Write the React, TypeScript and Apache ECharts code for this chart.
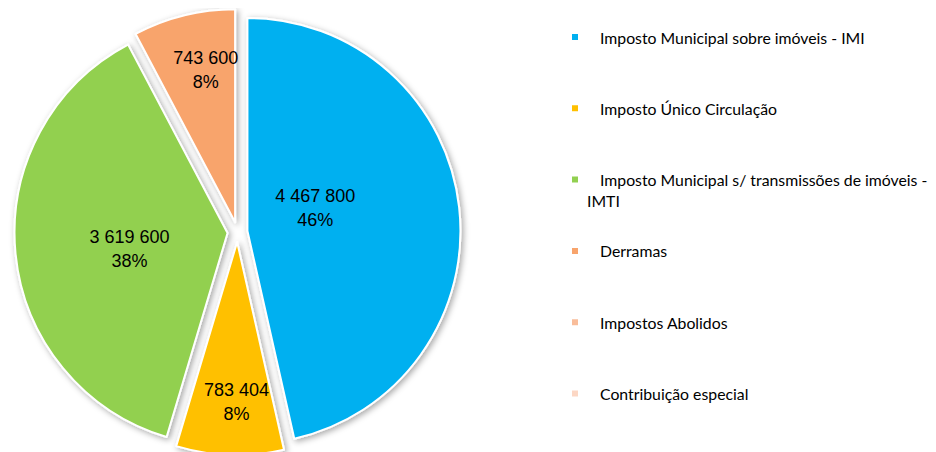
import React, { useEffect, useRef } from "react";
import * as echarts from "echarts";

const categories = [
  "Imposto Municipal sobre imóveis - IMI",
  "Imposto Único Circulação",
  "Imposto Municipal s/ transmissões de imóveis - IMTI",
  "Derramas",
  "Impostos Abolidos",
  "Contribuição especial",
];
const values = [4467800, 783404, 3619600, 743600, 0, 0];
const colors = ["#00B0F0", "#FFC000", "#92D050", "#F8A46C", "#F9BD9A", "#FCD7C4"];

const labelShift: [number, number][] = [
  [-41, -11],
  [3, 51],
  [11, 5],
  [-3, -46],
  [0, 0],
  [0, 0],
];

const fmt = (v: number) => String(Math.round(v)).replace(/\B(?=(\d{3})+(?!\d))/g, " ");

export default function App() {
  const ref = useRef<HTMLDivElement>(null);
  useEffect(() => {
    if (!ref.current) return;
    const chart = echarts.init(ref.current, undefined, { renderer: "svg" });
    chart.setOption({
      animation: false,
      backgroundColor: "#ffffff",
      legend: {
        orient: "vertical",
        left: 557,
        top: 14,
        itemGap: 51.3,
        itemWidth: 8,
        itemHeight: 8,
        icon: "rect",
        selectedMode: false,
        data: categories,
        formatter: (name: string) =>
          name === categories[2] ? "Imposto Municipal s/ transmissões de imóveis -" : name,
        textStyle: {
          fontFamily: "Lato",
          fontSize: 15.8,
          color: "#000",
          lineHeight: 20,
          padding: [0, 0, 0, 16],
        },
      },
      graphic: [
        {
          type: "text",
          left: 579,
          top: 184,
          style: { text: "IMTI", fontFamily: "Lato", fontSize: 15.8, fill: "#000" },
        },
      ],
      series: [
        {
          type: "pie",
          center: [229.5, 224],
          radius: [0, 213],
          startAngle: 90,
          clockwise: true,
          selectedMode: "multiple",
          selectedOffset: 10,
          avoidLabelOverlap: false,
          data: categories.map((name, i) => ({
            name,
            value: values[i],
            selected: true,
            itemStyle: { color: colors[i] },
            label: { show: values[i] > 0 },
          })),
          itemStyle: {
            borderColor: "#ffffff",
            borderWidth: 2,
            shadowBlur: 6,
            shadowColor: "rgba(0,0,0,0.35)",
            shadowOffsetX: 2,
            shadowOffsetY: 2,
          },
          label: {
            position: "inside",
            fontFamily: "Liberation Sans",
            fontSize: 18,
            lineHeight: 24,
            color: "#000",
            formatter: (p: any) => `${fmt(p.value)}\n${Math.round(p.percent)}%`,
          },
          labelLayout: (p: any) => ({ dx: labelShift[p.dataIndex][0], dy: labelShift[p.dataIndex][1] }),
          labelLine: { show: false },
          emphasis: { disabled: true },
        },
      ],
    });
    return () => chart.dispose();
  }, []);
  return <div ref={ref} style={{ width: 928, height: 444 }} />;
}
